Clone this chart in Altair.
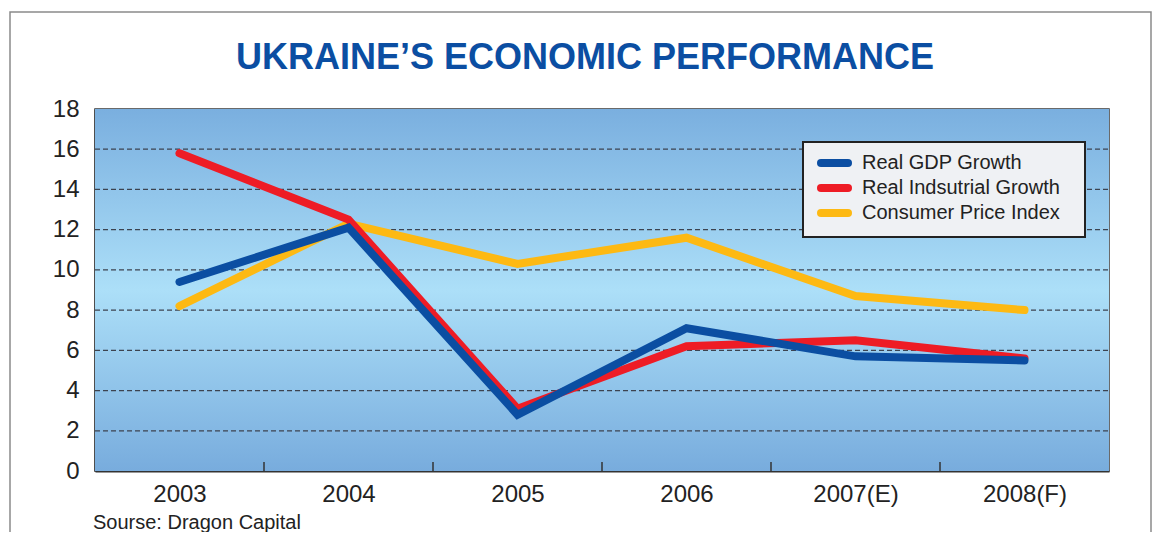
import altair as alt
import pandas as pd

years = ["2003", "2004", "2005", "2006", "2007(E)", "2008(F)"]
series_names = ["Real GDP Growth", "Real Indsutrial Growth", "Consumer Price Index"]
gdp = [9.4, 12.1, 2.8, 7.1, 5.7, 5.5]
industrial = [15.8, 12.5, 3.1, 6.2, 6.5, 5.6]
cpi = [8.2, 12.3, 10.3, 11.6, 8.7, 8.0]
y_ticks = [0, 2, 4, 6, 8, 10, 12, 14, 16, 18]
grid_values = [2, 4, 6, 8, 10, 12, 14, 16]
title_text = "UKRAINE\u2019S ECONOMIC PERFORMANCE"
source_text = "Sourse: Dragon Capital"

colors = ["#0b4ea2", "#ee1c25", "#fdb913"]

W, H = 1014, 362
LEFT, TOP = 87, 101
TOTAL_W, TOTAL_H = 1148, 524

rows = []
for name, vals in zip(series_names, [gdp, industrial, cpi]):
    for i, v in enumerate(vals):
        rows.append({"series": name, "idx": i, "year": years[i], "value": v})
df = pd.DataFrame(rows)

label_expr = "[" + ",".join('"%s"' % y for y in years) + "][datum.value]"

x_scale = alt.Scale(domain=[-0.5, len(years) - 0.5], nice=False, zero=False)
y_scale = alt.Scale(domain=[0, 18], nice=False)
color_scale = alt.Scale(domain=series_names, range=colors)

bg = alt.Chart(pd.DataFrame({"a": [0]})).mark_rect(
    color=alt.Gradient(
        gradient="linear",
        stops=[
            alt.GradientStop(color="#7aafdf", offset=0),
            alt.GradientStop(color="#acdff8", offset=0.5),
            alt.GradientStop(color="#78acdd", offset=1),
        ],
        x1=0, x2=0, y1=0, y2=1,
    )
).encode(x=alt.value(0), x2=alt.value(W), y=alt.value(0), y2=alt.value(H))

grid = alt.Chart(pd.DataFrame({"g": grid_values})).mark_rule(
    color="#3c4350", strokeWidth=1.3, strokeDash=[5, 3]
).encode(
    y=alt.Y("g:Q", scale=y_scale),
    x=alt.value(0), x2=alt.value(W),
)

ticks = alt.Chart(pd.DataFrame({"t": [i + 0.5 for i in range(len(years) - 1)]})).mark_rule(
    color="#333333", strokeWidth=1.5
).encode(
    x=alt.X("t:Q", scale=x_scale),
    y=alt.value(H - 9), y2=alt.value(H),
)

base = alt.Chart(df)
line_layers = []
for name in [series_names[2], series_names[1], series_names[0]]:
    line_layers.append(
        base.transform_filter(alt.datum.series == name).mark_line(
            strokeWidth=8, strokeCap="round", strokeJoin="miter"
        ).encode(
            x=alt.X(
                "idx:Q", scale=x_scale,
                axis=alt.Axis(
                    values=list(range(len(years))), labelExpr=label_expr,
                    title=None, ticks=False, grid=False, labelAngle=0,
                    labelFontSize=24, labelColor="#222222", labelPadding=11,
                    labelFont="Liberation Sans", domainColor="#333333",
                    domainWidth=2, labelFlush=False,
                ),
            ),
            y=alt.Y(
                "value:Q", scale=y_scale,
                axis=alt.Axis(
                    values=y_ticks, title=None, ticks=False, grid=False,
                    labelFontSize=24, labelColor="#222222", labelPadding=16,
                    labelFont="Liberation Sans", domainColor="#333333",
                    domainWidth=2, labelFlush=False,
                ),
            ),
            color=alt.Color("series:N", scale=color_scale, legend=None),
        )
    )

# legend box (drawn manually so the symbols get round caps and tight rows)
LX0, LX1, LY0, LY1 = 708, 990, 33, 128
legend_box = alt.Chart(pd.DataFrame({"a": [0]})).mark_rect(
    fill="#eff1f4", stroke="#222222", strokeWidth=2
).encode(x=alt.value(LX0), x2=alt.value(LX1), y=alt.value(LY0), y2=alt.value(LY1))

legend_layers = [legend_box]
for i, (name, col) in enumerate(zip(series_names, colors)):
    ry = 54 + 25 * i
    legend_layers.append(
        alt.Chart(pd.DataFrame({"a": [0]})).mark_rule(
            color=col, strokeWidth=8, strokeCap="round"
        ).encode(x=alt.value(726), x2=alt.value(753), y=alt.value(ry))
    )
    legend_layers.append(
        alt.Chart(pd.DataFrame({"t": [name]})).mark_text(
            font="Liberation Sans", fontSize=20, color="#222222",
            align="left", baseline="middle",
        ).encode(text="t:N", x=alt.value(767), y=alt.value(ry))
    )

title = alt.Chart(pd.DataFrame({"t": [title_text]})).mark_text(
    font="Liberation Sans", fontWeight="bold", fontSize=36,
    color="#0b4ea2", align="center", baseline="middle",
).encode(text="t:N", x=alt.value(490), y=alt.value(-51))

source = alt.Chart(pd.DataFrame({"t": [source_text]})).mark_text(
    font="Liberation Sans", fontSize=20, color="#222222",
    align="left", baseline="middle",
).encode(text="t:N", x=alt.value(-2), y=alt.value(414))

frame = alt.Chart(pd.DataFrame({"a": [0]})).mark_rect(
    fill=None, fillOpacity=0, stroke="#8a8a8a", strokeWidth=1.5
).encode(
    x=alt.value(10 - 95), x2=alt.value(1151 - 95),
    y=alt.value(12 - 109), y2=alt.value(560 - 109),
)

chart = alt.layer(
    bg, grid, ticks, *line_layers, *legend_layers, title, source, frame
).properties(
    width=W, height=H,
    autosize=alt.AutoSizeParams(type="none"),
    padding={"left": LEFT, "top": TOP, "right": TOTAL_W - LEFT - W, "bottom": TOTAL_H - TOP - H},
    background="white",
).configure_view(
    stroke="#3a3a3a", strokeWidth=1.5
)

chart.save("out.html", embed_options={"renderer": "svg", "actions": False})
